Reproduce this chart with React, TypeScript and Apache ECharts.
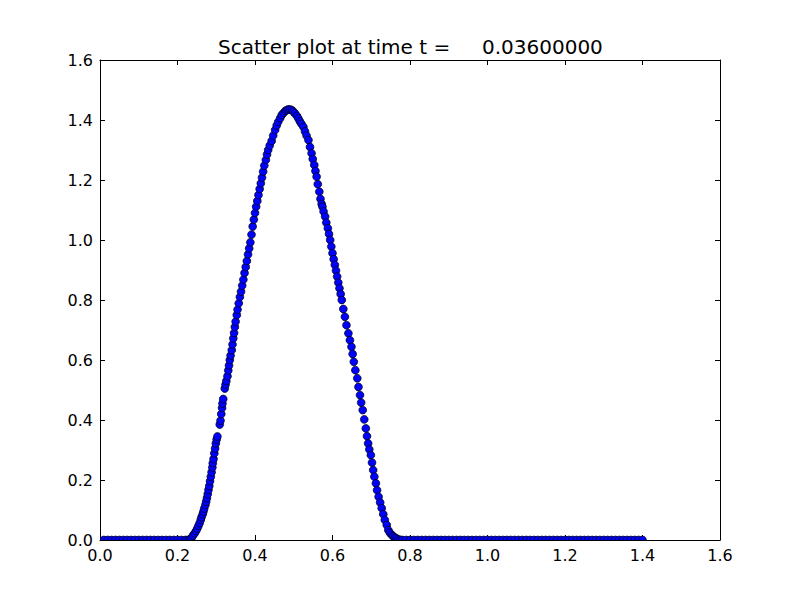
import React, { useEffect, useRef } from "react";
import * as echarts from "echarts";

const titleText = "Scatter plot at time t =     0.03600000";
const xTicks = [0, 0.2, 0.4, 0.6, 0.8, 1.0, 1.2, 1.4, 1.6];
const yTicks = [0, 0.2, 0.4, 0.6, 0.8, 1.0, 1.2, 1.4, 1.6];

const leftFlatX = [0.01, 0.02, 0.03, 0.04, 0.05, 0.06, 0.07, 0.08, 0.09, 0.1, 0.11, 0.12, 0.13, 0.14, 0.15, 0.16, 0.17, 0.18, 0.19, 0.2, 0.21, 0.22, 0.226];
const rightFlatX = [0.775, 0.78, 0.79, 0.8, 0.81, 0.82, 0.83, 0.84, 0.85, 0.86, 0.87, 0.88, 0.89, 0.9, 0.91, 0.92, 0.93, 0.94, 0.95, 0.96, 0.97, 0.98, 0.99, 1.0, 1.01, 1.02, 1.03, 1.04, 1.05, 1.06, 1.07, 1.08, 1.09, 1.1, 1.11, 1.12, 1.13, 1.14, 1.15, 1.16, 1.17, 1.18, 1.19, 1.2, 1.21, 1.22, 1.23, 1.24, 1.25, 1.26, 1.27, 1.28, 1.29, 1.3, 1.31, 1.32, 1.33, 1.34, 1.35, 1.36, 1.37, 1.38, 1.39, 1.4];

const humpX = [
  0.232, 0.236, 0.24, 0.244, 0.248, 0.251, 0.254, 0.257, 0.26, 0.262, 0.265, 0.267, 0.269, 0.272, 0.274, 0.276, 0.278, 0.28, 0.282, 0.284,
  0.286, 0.288, 0.29, 0.291, 0.293, 0.295, 0.297, 0.299, 0.301, 0.303, 0.309, 0.311, 0.313, 0.315, 0.316, 0.318, 0.322, 0.324, 0.326, 0.329,
  0.331, 0.333, 0.335, 0.337, 0.34, 0.342, 0.344, 0.346, 0.348, 0.35, 0.353, 0.355, 0.358, 0.361, 0.364, 0.367, 0.37, 0.373, 0.376, 0.379,
  0.382, 0.385, 0.388, 0.391, 0.394, 0.397, 0.4, 0.403, 0.406, 0.409, 0.412, 0.415, 0.418, 0.421, 0.424, 0.428, 0.431, 0.434, 0.438, 0.443,
  0.447, 0.452, 0.456, 0.46, 0.465, 0.469, 0.474, 0.478, 0.482, 0.486, 0.49, 0.495, 0.499, 0.503, 0.508, 0.512, 0.516, 0.52, 0.525, 0.529,
  0.533, 0.538, 0.542, 0.546, 0.549, 0.553, 0.556, 0.559, 0.562, 0.566, 0.569, 0.572, 0.574, 0.577, 0.581, 0.584, 0.588, 0.591, 0.594, 0.597,
  0.6, 0.603, 0.606, 0.609, 0.612, 0.615, 0.618, 0.621, 0.624, 0.628, 0.632, 0.636, 0.641, 0.645, 0.649, 0.652, 0.655, 0.659, 0.664, 0.667,
  0.671, 0.674, 0.678, 0.682, 0.686, 0.689, 0.692, 0.695, 0.699, 0.702, 0.705, 0.708, 0.712, 0.715, 0.719, 0.723, 0.727, 0.731, 0.735, 0.74,
  0.744, 0.748, 0.753, 0.757, 0.761, 0.765, 0.77
];
const humpY = [
  0.002, 0.006, 0.015, 0.022, 0.03, 0.038, 0.047, 0.056, 0.067, 0.076, 0.086, 0.095, 0.105, 0.117, 0.128, 0.14, 0.153, 0.167, 0.18, 0.196,
  0.211, 0.226, 0.242, 0.256, 0.27, 0.289, 0.305, 0.322, 0.335, 0.345, 0.385, 0.398, 0.42, 0.44, 0.455, 0.47, 0.505, 0.518, 0.53, 0.546,
  0.565, 0.582, 0.6, 0.615, 0.633, 0.652, 0.672, 0.69, 0.71, 0.728, 0.75, 0.768, 0.789, 0.81, 0.828, 0.848, 0.868, 0.89, 0.91, 0.93,
  0.952, 0.972, 0.992, 1.018, 1.045, 1.068, 1.09, 1.111, 1.13, 1.15, 1.17, 1.189, 1.208, 1.228, 1.248, 1.267, 1.285, 1.3, 1.315, 1.33,
  1.348, 1.367, 1.382, 1.394, 1.406, 1.417, 1.424, 1.43, 1.433, 1.435, 1.435, 1.433, 1.428, 1.422, 1.414, 1.405, 1.395, 1.387, 1.377, 1.362,
  1.348, 1.333, 1.31, 1.289, 1.27, 1.25, 1.23, 1.211, 1.186, 1.161, 1.137, 1.12, 1.111, 1.095, 1.078, 1.058, 1.039, 1.02, 1.0, 0.978,
  0.956, 0.936, 0.917, 0.898, 0.878, 0.858, 0.839, 0.82, 0.8, 0.77, 0.744, 0.716, 0.689, 0.666, 0.644, 0.62, 0.594, 0.566, 0.539, 0.51,
  0.483, 0.458, 0.433, 0.402, 0.372, 0.346, 0.322, 0.302, 0.283, 0.258, 0.233, 0.211, 0.189, 0.166, 0.144, 0.125, 0.106, 0.086, 0.067, 0.05,
  0.033, 0.024, 0.017, 0.012, 0.008, 0.005, 0.002
];

const FONT = "DejaVu Sans";

export default function App() {
  const ref = useRef<HTMLDivElement>(null);
  useEffect(() => {
    if (!ref.current) return;
    const chart = echarts.init(ref.current, null, { renderer: "svg" });
    const data: number[][] = [];
    leftFlatX.forEach((x) => data.push([x, 0]));
    humpX.forEach((x, i) => data.push([x, humpY[i]]));
    rightFlatX.forEach((x) => data.push([x, 0]));

    const axisCommon = {
      type: "value" as const,
      min: xTicks[0],
      max: xTicks[xTicks.length - 1],
      interval: 0.2,
      splitLine: { show: false },
      axisLine: { show: true, onZero: false, lineStyle: { color: "#000", width: 1 } },
      axisTick: { show: true, inside: true, length: 5, lineStyle: { color: "#000", width: 1 } },
    };
    const labelStyle = {
      color: "#000",
      fontSize: 16,
      fontFamily: FONT,
      formatter: (v: number) => v.toFixed(1),
    };

    chart.setOption({
      animation: false,
      backgroundColor: "#fff",
      title: {
        text: titleText,
        left: 218,
        top: 37,
        padding: 0,
        textStyle: { color: "#000", fontSize: 20, fontWeight: "normal", fontFamily: FONT },
      },
      grid: { left: 100, right: 80, top: 60, bottom: 60, containLabel: false },
      xAxis: [
        { ...axisCommon, position: "bottom", axisLabel: { ...labelStyle, margin: 7 } },
        { ...axisCommon, position: "top", axisLabel: { show: false } },
      ],
      yAxis: [
        { ...axisCommon, min: yTicks[0], max: yTicks[yTicks.length - 1], position: "left", axisLabel: { ...labelStyle, margin: 7 } },
        { ...axisCommon, min: yTicks[0], max: yTicks[yTicks.length - 1], position: "right", axisLabel: { show: false } },
      ],
      series: [
        {
          type: "custom",
          xAxisIndex: 0,
          yAxisIndex: 0,
          clip: true,
          encode: { x: 0, y: 1 },
          data,
          renderItem: (params: any, api: any) => {
            const p = api.coord([api.value(0), api.value(1)]);
            return {
              type: "circle",
              shape: { cx: p[0], cy: p[1], r: 3.9 },
              style: { fill: "#0000ff", stroke: "#000", lineWidth: 0.7 },
            };
          },
        },
      ],
    });
    return () => chart.dispose();
  }, []);
  return <div ref={ref} style={{ width: 800, height: 600, margin: -8 }} />;
}
